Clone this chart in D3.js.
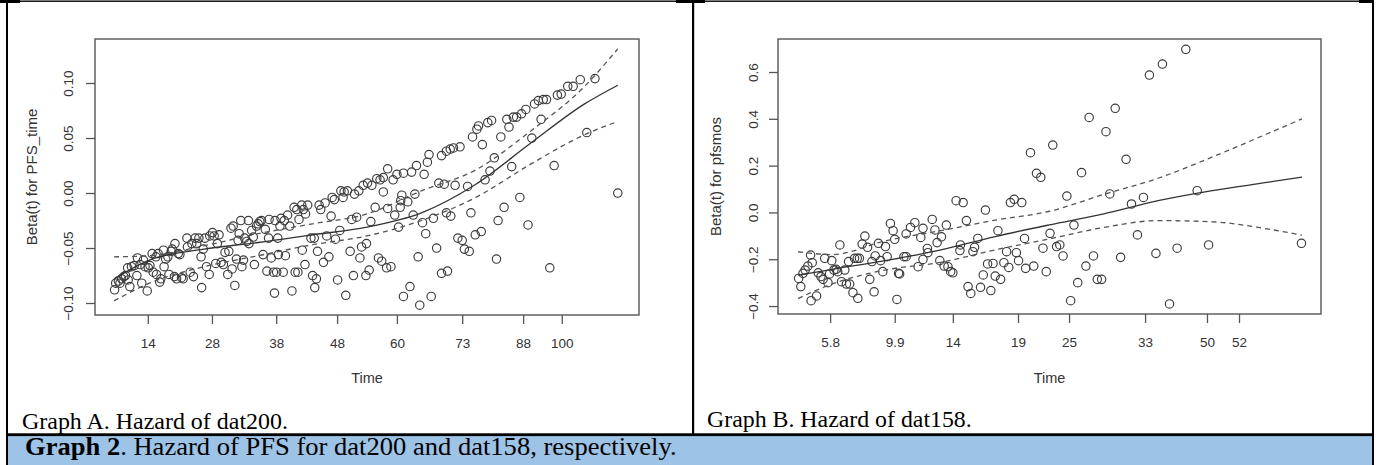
<!DOCTYPE html>
<html>
<head>
<meta charset="utf-8">
<script src="https://cdn.jsdelivr.net/npm/d3@7"></script>
<style>
html, body { margin: 0; padding: 0; background: #fff; }
svg { display: block; }
</style>
</head>
<body>
<div id="chart"></div>
<script>
// ---- Graph A: dat200, Beta(t) for PFS_time (x is km-transformed time, 0..1 across the box)
const timeTicksA = [0.097, 0.215, 0.333, 0.445, 0.555, 0.675, 0.787, 0.858];
const timeLabelsA = ["14", "28", "38", "48", "60", "73", "88", "100"];
const betaTicksA = [-0.10, -0.05, 0.00, 0.05, 0.10];
const betaDomainA = [-0.1109, 0.14];
const pointsA = [
  [.036,-.088],[.038,-.082],[.043,-.080],[.046,-.082],[.049,-.078],[.053,-.076],[.056,-.075],[.061,-.079],
  [.064,-.085],[.060,-.068],[.067,-.067],[.072,-.066],[.078,-.059],[.077,-.075],[.086,-.082],[.083,-.065],
  [.089,-.061],[.092,-.067],[.096,-.089],[.098,-.068],[.101,-.066],[.105,-.055],[.107,-.072],[.112,-.058],
  [.113,-.074],[.116,-.055],[.119,-.081],[.121,-.078],[.126,-.052],[.127,-.067],[.130,-.060],[.134,-.058],
  [.136,-.074],[.140,-.053],[.142,-.051],[.147,-.046],[.146,-.076],[.150,-.078],[.153,-.055],[.156,-.056],
  [.159,-.077],[.162,-.078],[.169,-.041],[.170,-.049],[.175,-.072],[.178,-.046],[.181,-.076],[.184,-.041],
  [.187,-.046],[.191,-.041],[.195,-.058],[.196,-.086],[.199,-.051],[.202,-.041],[.205,-.067],[.210,-.074],
  [.211,-.039],[.216,-.036],[.219,-.039],[.222,-.064],[.225,-.046],[.228,-.038],[.232,-.063],[.236,-.065],
  [.239,-.054],[.244,-.074],[.246,-.053],[.250,-.032],[.252,-.069],[.254,-.030],[.257,-.084],[.260,-.060],
  [.263,-.043],[.265,-.037],[.268,-.025],[.270,-.067],[.273,-.061],[.275,-.041],[.279,-.044],[.282,-.025],
  [.283,-.046],[.288,-.034],[.291,-.040],[.293,-.065],[.297,-.030],[.300,-.028],[.303,-.026],[.306,-.025],
  [.309,-.056],[.313,-.033],[.316,-.071],[.319,-.041],[.320,-.024],[.324,-.059],[.328,-.072],[.330,-.091],
  [.331,-.025],[.334,-.072],[.336,-.041],[.337,-.056],[.340,-.030],[.342,-.023],[.346,-.072],[.348,-.025],
  [.350,-.057],[.354,-.020],[.358,-.030],[.362,-.089],[.366,-.013],[.368,-.072],[.371,-.015],[.373,-.072],
  [.375,-.024],[.380,-.011],[.381,-.052],[.383,-.015],[.386,-.065],[.387,-.019],[.391,-.011],[.397,-.041],
  [.400,-.075],[.403,-.041],[.404,-.086],[.407,-.078],[.409,-.053],[.412,-.011],[.415,-.015],[.420,-.063],
  [.423,-.009],[.426,-.039],[.430,-.058],[.434,-.021],[.436,-.004],[.440,-.006],[.442,-.042],[.446,-.079],
  [.450,-.034],[.452,.002],[.456,-.004],[.458,.001],[.461,-.093],[.464,.002],[.469,-.053],[.472,-.024],
  [.475,-.075],[.477,-.001],[.481,-.022],[.485,.002],[.487,-.059],[.490,-.049],[.493,.007],[.498,-.075],
  [.499,-.046],[.501,.009],
  [.509,.007],[.518,.013],[.524,.012],[.530,.014],[.538,.022],[.548,.012],[.555,.017],[.567,.018],
  [.582,.019],[.591,.025],[.605,.017],[.611,.028],[.614,.035],[.637,.034],[.646,.038],[.653,.040],
  [.659,.041],[.671,.042],[.694,.051],[.702,.058],[.705,.061],[.712,.044],[.722,.064],[.729,.066],
  [.746,.051],[.757,.067],[.761,.060],[.769,.069],[.775,.069],[.784,.072],[.792,.076],[.803,.050],
  [.808,.081],[.815,.084],[.820,.067],[.824,.085],[.830,.085],[.850,.089],[.857,.090],[.869,.097],
  [.879,.097],[.892,.103],[.919,.104],[.904,.055],[.844,.025],[.766,.024],[.726,.020],[.734,.032],
  [.717,.012],[.685,.006],[.662,.007],[.632,.009],[.642,.008],[.588,-.001],[.575,-.008],[.564,-.002],
  [.562,-.007],[.530,.001],[.515,-.013],[.538,-.014],[.561,-.013],[.585,-.020],[.551,-.020],[.507,-.026],
  [.558,-.031],[.602,-.027],[.622,-.023],[.646,-.018],[.654,-.021],[.691,-.018],[.741,-.025],[.752,-.013],
  [.781,-.004],[.796,-.029],[.608,-.037],[.628,-.050],[.667,-.041],[.675,-.043],[.679,-.051],[.688,-.053],
  [.699,-.038],[.710,-.035],[.594,-.058],[.521,-.059],[.527,-.062],[.536,-.068],[.544,-.067],[.504,-.070],
  [.637,-.073],[.648,-.071],[.738,-.060],[.836,-.068],[.579,-.085],[.567,-.094],[.597,-.102],[.618,-.094],
  [.961,.000]
];
const curveXA = [0.035, 0.1, 0.2, 0.3, 0.4, 0.5, 0.6, 0.7, 0.8, 0.9, 0.961];
const fitA   = [-0.078, -0.061, -0.051, -0.045, -0.038, -0.031, -0.018, 0.008, 0.045, 0.081, 0.098];
const upperA = [-0.058, -0.057, -0.048, -0.037, -0.028, -0.019, 0.002, 0.021, 0.056, 0.097, 0.131];
const lowerA = [-0.098, -0.082, -0.067, -0.057, -0.047, -0.039, -0.025, -0.004, 0.026, 0.053, 0.065];

// ---- Graph B: dat158, Beta(t) for pfsmos
const timeTicksB = [0.096, 0.215, 0.322, 0.442, 0.536, 0.676, 0.790, 0.849];
const timeLabelsB = ["5.8", "9.9", "14", "19", "25", "33", "50", "52"];
const betaTicksB = [-0.4, -0.2, 0.0, 0.2, 0.4, 0.6];
const betaDomainB = [-0.434, 0.741];
const pointsB = [
  [.038,-.282],[.042,-.317],[.046,-.260],[.050,-.246],[.055,-.229],[.060,-.182],[.063,-.215],[.061,-.377],
  [.071,-.357],[.074,-.258],[.079,-.274],[.083,-.286],[.086,-.196],[.092,-.300],[.095,-.263],[.099,-.206],
  [.103,-.246],[.107,-.243],[.110,-.253],[.114,-.139],[.117,-.296],[.123,-.246],[.126,-.306],[.130,-.210],
  [.132,-.306],[.138,-.343],[.141,-.196],[.146,-.196],[.150,-.196],[.147,-.367],[.155,-.135],[.160,-.101],
  [.165,-.149],[.169,-.286],[.173,-.210],[.177,-.339],[.179,-.186],[.185,-.132],[.189,-.206],[.193,-.253],
  [.198,-.146],[.201,-.189],[.207,-.047],[.212,-.078],[.215,-.115],[.219,-.372],[.222,-.260],[.224,-.263],
  [.232,-.189],[.236,-.189],[.236,-.092],[.244,-.064],[.252,-.044],[.258,-.232],[.263,-.107],[.267,-.201],
  [.267,-.068],[.275,-.154],[.276,-.172],[.284,-.030],[.289,-.075],[.293,-.129],[.298,-.206],[.301,-.104],
  [.306,-.229],[.310,-.054],[.313,-.232],[.318,-.253],[.322,-.258],[.328,.050],[.335,-.163],[.336,-.139],
  [.341,.042],[.347,-.035],[.350,-.317],[.355,-.346],[.359,-.168],[.362,-.149],[.368,-.111],[.373,-.320],
  [.378,-.267],[.382,.010],[.386,-.220],[.392,-.334],[.396,-.218],[.400,-.272],[.405,-.078],[.410,-.286],
  [.416,-.215],[.421,-.168],[.425,-.235],[.428,.042],[.435,.056],[.439,-.172],[.443,-.206],[.449,.042],
  [.454,-.111],[.456,-.239],[.465,.255],[.471,-.229],[.476,.167],[.484,.150],[.488,-.153],[.494,-.253],
  [.506,.288],[.501,-.089],[.532,.070],[.545,-.054],[.559,.170],[.573,.406],[.604,.345],[.621,.445],
  [.611,.079],[.641,.227],[.651,.036],[.673,.064],[.662,-.096],[.684,.587],[.708,.634],[.751,.697],
  [.772,.093],[.793,-.139],[.735,-.153],[.696,-.175],[.631,-.192],[.581,-.186],[.567,-.229],[.552,-.300],
  [.539,-.377],[.588,-.286],[.596,-.286],[.525,-.186],[.513,-.146],[.519,-.139],[.721,-.391],[.964,-.132]
];
const curveXB = [0.037, 0.1, 0.2, 0.3, 0.4, 0.5, 0.6, 0.7, 0.8, 0.9, 0.965];
const fitB   = [-0.268, -0.243, -0.205, -0.160, -0.103, -0.053, -0.006, 0.050, 0.093, 0.128, 0.151];
const upperB = [-0.168, -0.180, -0.120, -0.078, -0.033, 0.005, 0.077, 0.146, 0.237, 0.335, 0.400];
const lowerB = [-0.368, -0.305, -0.245, -0.213, -0.160, -0.113, -0.064, -0.035, -0.040, -0.070, -0.097];

const W = 1379, H = 465;
const svg = d3.select("#chart").append("svg").attr("width", W).attr("height", H);

// table cell borders and caption row
svg.append("rect").attr("x", 8).attr("y", 436).attr("width", 1364).attr("height", 29).attr("fill", "#9dc3e6");
const borders = [
  [6, 0.5, 1368, 1.4], [6, 0, 2, 465], [692, 0, 2.2, 434], [1372, 0, 2, 465], [6, 433.3, 1368, 2.8],
  [0, 0, 20, 3], [676, 0, 16, 3], [692, 0, 13, 3], [1359, 0, 15, 3]
];
svg.selectAll("rect.border").data(borders).join("rect").attr("class", "border")
  .attr("x", d => d[0]).attr("y", d => d[1]).attr("width", d => d[2]).attr("height", d => d[3])
  .attr("fill", "#000");

const ink = "#3c3c3c";
const sans = "'Liberation Sans', Arial, Helvetica, sans-serif";

function panel(o) {
  const x = d3.scaleLinear().domain([0, 1]).range([o.left, o.right]);
  const y = d3.scaleLinear().domain(o.yDomain).range([o.bottom, o.top]);
  const g = svg.append("g");

  g.selectAll("circle").data(o.points).join("circle")
    .attr("cx", d => x(d[0])).attr("cy", d => y(d[1])).attr("r", 4.2)
    .attr("fill", "none").attr("stroke", ink).attr("stroke-width", 1.15);

  const line = d3.line().x((d, i) => x(o.cx[i])).y(d => y(d)).curve(d3.curveMonotoneX);
  g.append("path").attr("d", line(o.fit)).attr("fill", "none").attr("stroke", "#333").attr("stroke-width", 1.3);
  [o.upper, o.lower].forEach(s => {
    g.append("path").attr("d", line(s)).attr("fill", "none").attr("stroke", "#555")
      .attr("stroke-width", 1.3).attr("stroke-dasharray", "5,4");
  });

  g.append("rect").attr("x", o.left).attr("y", o.top)
    .attr("width", o.right - o.left).attr("height", o.bottom - o.top)
    .attr("fill", "none").attr("stroke", "#555").attr("stroke-width", 1.4);

  const xa = g.append("g").attr("transform", `translate(0,${o.bottom})`)
    .call(d3.axisBottom(x).tickValues(o.xTicks).tickFormat((d, i) => o.xLabels[i]).tickSize(9).tickPadding(14));
  const ya = g.append("g").attr("transform", `translate(${o.left},0)`)
    .call(d3.axisLeft(y).tickValues(o.yTicks).tickFormat(o.yFormat).tickSize(9));
  [xa, ya].forEach(a => {
    a.select(".domain").remove();
    a.selectAll("line").attr("stroke", "#555").attr("stroke-width", 1.3);
    a.selectAll("text").attr("fill", "#333").style("font-family", sans).style("font-size", "13.5px");
  });
  ya.selectAll("text").attr("transform", "rotate(-90)").attr("x", 0).attr("y", -o.yLabelGap)
    .attr("dy", 0).attr("text-anchor", "middle");

  g.append("text").attr("x", (o.left + o.right) / 2).attr("y", 383).attr("text-anchor", "middle")
    .attr("fill", "#333").style("font-family", sans).style("font-size", "14.5px").text("Time");
  g.append("text").attr("transform", `translate(${o.titleX},${(o.top + o.bottom) / 2}) rotate(-90)`)
    .attr("text-anchor", "middle").attr("fill", "#333").style("font-family", sans).style("font-size", "15px")
    .text(o.yTitle);
}

panel({
  left: 95, right: 639, top: 39, bottom: 315, yDomain: betaDomainA,
  points: pointsA, cx: curveXA, fit: fitA, upper: upperA, lower: lowerA,
  xTicks: timeTicksA, xLabels: timeLabelsA, yTicks: betaTicksA, yFormat: d3.format(".2f"),
  yLabelGap: 22, titleX: 37, yTitle: "Beta(t) for PFS_time"
});
panel({
  left: 778, right: 1321, top: 39, bottom: 314, yDomain: betaDomainB,
  points: pointsB, cx: curveXB, fit: fitB, upper: upperB, lower: lowerB,
  xTicks: timeTicksB, xLabels: timeLabelsB, yTicks: betaTicksB, yFormat: d3.format(".1f"),
  yLabelGap: 20, titleX: 721, yTitle: "Beta(t) for pfsmos"
});

// captions (serif, like the surrounding document); each stretched to the width seen in the picture
const serif = "'Liberation Serif', 'Times New Roman', Times, serif";
const captions = [
  { x: 22, y: 429, size: 24, width: 266, parts: [["Graph A. Hazard of dat200.", 400]] },
  { x: 707, y: 427, size: 24, width: 265, parts: [["Graph B. Hazard of dat158.", 400]] },
  { x: 25, y: 455, size: 25, width: 652, parts: [["Graph 2", 700], [". Hazard of PFS for dat200 and dat158, respectively.", 400]] }
];
captions.forEach(c => {
  const t = svg.append("text").attr("transform", `translate(${c.x},${c.y})`)
    .style("font-family", serif).style("font-size", c.size + "px").attr("fill", "#000");
  c.parts.forEach(p => t.append("tspan").style("font-weight", p[1]).text(p[0]));
  const w = t.node().getComputedTextLength();
  t.attr("transform", `translate(${c.x},${c.y}) scale(${c.width / w},1)`);
});
</script>
</body>
</html>
